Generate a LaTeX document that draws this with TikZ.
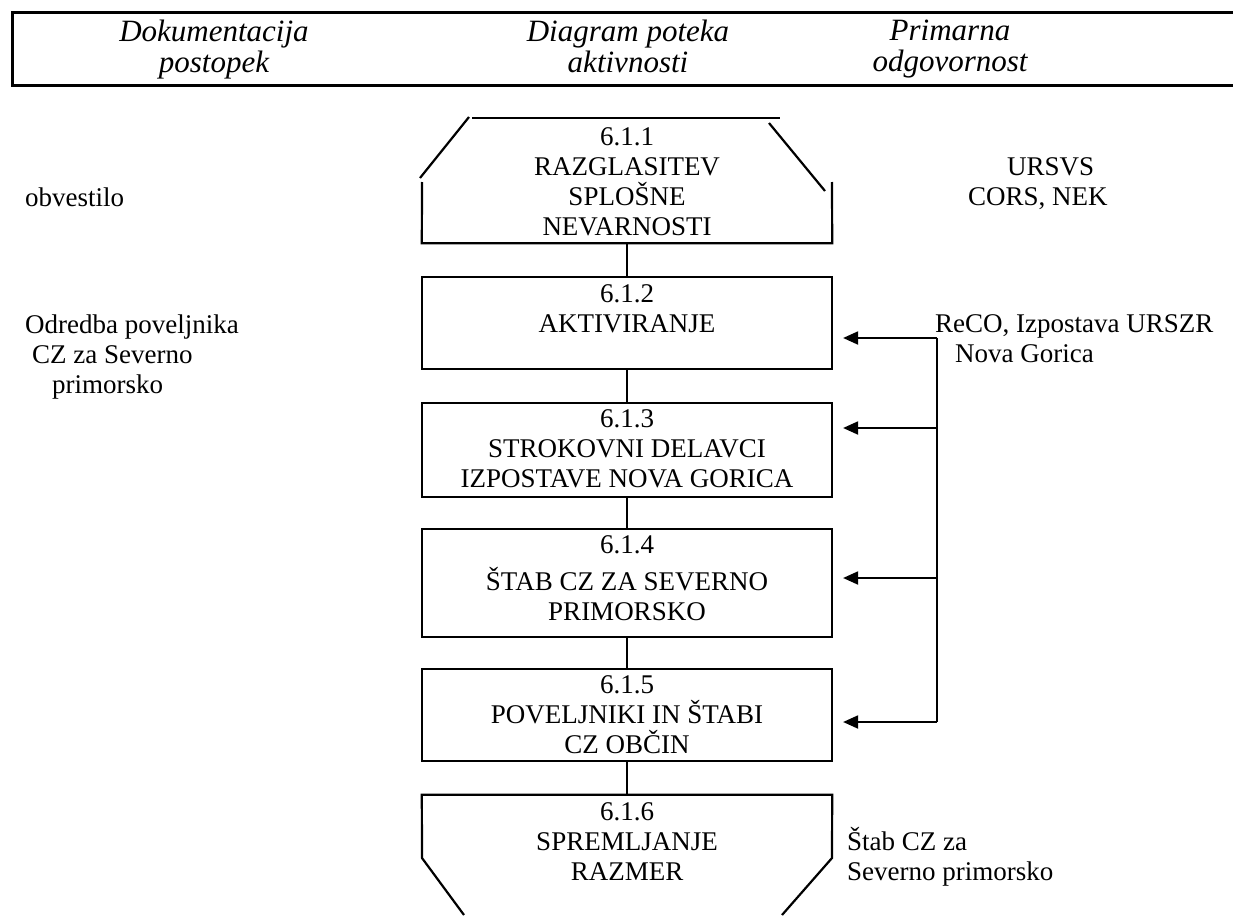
\documentclass[tikz,border=0pt]{standalone}
\usepackage{fontspec}
\setmainfont{Liberation Serif}
\usetikzlibrary{arrows.meta,positioning}
\begin{document}
\begin{tikzpicture}[x=1pt,y=-1pt,
  body/.style={font=\fontsize{27}{30}\selectfont, inner sep=0pt},
  head/.style={font=\fontsize{31}{31}\selectfont\itshape, inner sep=0pt, align=center, anchor=north},
  stepbox/.style={draw, line width=2.2pt, minimum width=410pt, inner sep=0pt},
  frame/.style={inner sep=0pt, minimum width=410pt},
  boxtext/.style={body, align=center},
  side/.style={body, anchor=base west},
  link/.style={line width=2.2pt},
  bus/.style={line width=2pt},
  feed/.style={line width=2pt, -{Triangle[length=15pt,width=13pt]}, shorten >=10pt},
  rule/.style={line width=3pt}
]
\useasboundingbox (0,0) rectangle (1233,915);

% table header
\draw[rule] (1233,13) -- (12,13) -- (12,86) -- (1233,86);
\node[head] (h1) at (214,20) {Dokumentacija\\postopek};
\node[head] (h2) at (628,20) {Diagram poteka\\aktivnosti};
\node[head] (h3) at (950,20) {Primarna\\odgovornost};

% flow steps
\node[frame, minimum height=125pt] (b1) at (627,180.5) {};
\node[stepbox, minimum height=92pt]  (b2) at (627,323) {};
\node[stepbox, minimum height=94pt]  (b3) at (627,450) {};
\node[stepbox, minimum height=108pt] (b4) at (627,583) {};
\node[stepbox, minimum height=92pt]  (b5) at (627,715) {};
\node[frame, minimum height=120pt] (b6) at (627,855) {};

% start symbol with cut corners
\draw[link] (472,118) -- (780,118);
\draw[link] (469,117) -- (420,178);
\draw[link] (769,123) -- (825,191);
\draw[link] (422,182) -- (b1.south west) -- (b1.south east) -- (832,182);

% end symbol with cut corners
\draw[link] (464,915) -- (422,858) -- (b6.north west) -- (b6.north east) -- (832,858) -- (782,915);

% step texts
\node[boxtext, below=9.2pt of b1.north] (t1) {6.1.1\\RAZGLASITEV\\SPLOŠNE\\NEVARNOSTI};
\node[boxtext, below=8.5pt of b2.north] (t2) {6.1.2\\AKTIVIRANJE};
\node[boxtext, below=8pt of b3.north] (t3) {6.1.3\\STROKOVNI DELAVCI\\IZPOSTAVE NOVA GORICA};
\node[boxtext, below=7.5pt of b4.north] (t4) {6.1.4\\[7pt]ŠTAB CZ ZA SEVERNO\\PRIMORSKO};
\node[boxtext, below=8pt of b5.north] (t5) {6.1.5\\POVELJNIKI IN ŠTABI\\CZ OBČIN};
\node[boxtext, below=7.5pt of b6.north] (t6) {6.1.6\\SPREMLJANJE\\RAZMER};

% connectors between steps
\draw[link] (b1.south) -- (b2.north);
\draw[link] (b2.south) -- (b3.north);
\draw[link] (b3.south) -- (b4.north);
\draw[link] (b4.south) -- (b5.north);
\draw[link] (b5.south) -- (b6.north);

% documentation column
\node[side] (d1) at (25,206) {obvestilo};
\node[side] (d2) at (25,333) {Odredba poveljnika};
\node[side] (d3) at (32,363) {CZ za Severno};
\node[side] (d4) at (52,393) {primorsko};

% responsibility column
\node[side] (r1) at (1007,175) {URSVS};
\node[side] (r2) at (968,205) {CORS, NEK};
\node[side] (r3) at (935,332) {ReCO, Izpostava URSZR};
\node[side] (r4) at (955,362) {Nova Gorica};
\node[side] (r5) at (847,850) {Štab CZ za};
\node[side] (r6) at (847,880) {Severno primorsko};

% feedback bus from the responsible services
\coordinate (a2) at (937,338);
\coordinate (a3) at (937,428);
\coordinate (a4) at (937,578);
\coordinate (a5) at (937,722);
\draw[bus] (a2) -- (a5);
\draw[feed] (a2) -- (b2.east |- a2);
\draw[feed] (a3) -- (b3.east |- a3);
\draw[feed] (a4) -- (b4.east |- a4);
\draw[feed] (a5) -- (b5.east |- a5);
\end{tikzpicture}
\end{document}
